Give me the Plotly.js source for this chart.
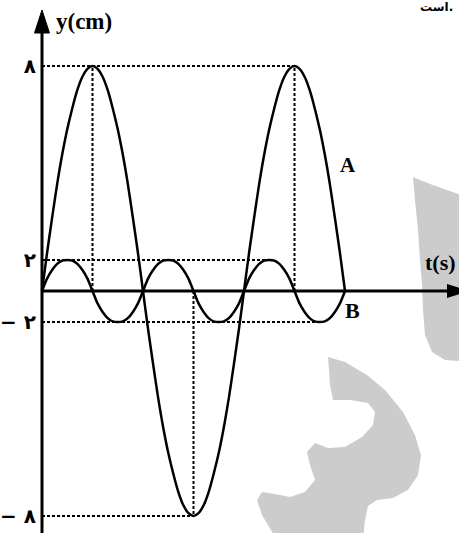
<!DOCTYPE html>
<html>
<head>
<meta charset="utf-8">
<script src="https://cdn.plot.ly/plotly-3.0.1.min.js"></script>
<style>html,body{margin:0;padding:0;background:#fff;}#chart{width:459px;height:533px;}</style>
</head>
<body>
<div id="chart"></div>
<script>
// time samples (s), shared by both waves
const t = [0,0.05,0.1,0.15,0.2,0.25,0.3,0.35,0.4,0.45,0.5,0.55,0.6,0.65,0.7,0.75,0.8,0.85,0.9,0.95,
  1,1.05,1.1,1.15,1.2,1.25,1.3,1.35,1.4,1.45,1.5,1.55,1.6,1.65,1.7,1.75,1.8,1.85,1.9,1.95,
  2,2.05,2.1,2.15,2.2,2.25,2.3,2.35,2.4,2.45,2.5,2.55,2.6,2.65,2.7,2.75,2.8,2.85,2.9,2.95,3];
// wave A, amplitude 8 cm
const waveA = [0,1.35,2.6,3.8,4.85,5.75,6.5,7.15,7.62,7.9,8,7.9,7.62,7.15,6.5,5.75,4.85,3.8,2.6,1.35,
  0,-1.35,-2.6,-3.8,-4.85,-5.75,-6.5,-7.15,-7.62,-7.9,-8,-7.9,-7.62,-7.15,-6.5,-5.75,-4.85,-3.8,-2.6,-1.35,
  0,1.35,2.6,3.8,4.85,5.75,6.5,7.15,7.62,7.9,8,7.9,7.62,7.15,6.5,5.75,4.85,3.8,2.6,1.35,0];
// wave B, amplitude 2 cm
const waveB = [0,0.8,1.35,1.75,1.96,2,1.96,1.75,1.35,0.8,0,-0.8,-1.35,-1.75,-1.96,-2,-1.96,-1.75,-1.35,-0.8,
  0,0.8,1.35,1.75,1.96,2,1.96,1.75,1.35,0.8,0,-0.8,-1.35,-1.75,-1.96,-2,-1.96,-1.75,-1.35,-0.8,
  0,0.8,1.35,1.75,1.96,2,1.96,1.75,1.35,0.8,0,-0.8,-1.35,-1.75,-1.96,-2,-1.96,-1.75,-1.35,-0.8,0];
// tick labels
const tickA = [8, -8];
const tickAText = ['۸', '− ۸'];
const tickB = [2, -2];
const tickBText = ['۲', '− ۲'];

const W = 459, H = 533, X0 = 42;
const pxPerT = 101;
const xRange = [-X0 / pxPerT, (W - X0) / pxPerT];
const xMax = xRange[1];
const yA = [-(H - 291) / 28.125, 291 / 28.125];
const yB = [-(H - 291) / 15.5, 291 / 15.5];

function idxOf(arr, v) { const r = []; arr.forEach((a, i) => { if (a === v) r.push(i); }); return r; }
const aMax = Math.max(...waveA), aMin = Math.min(...waveA);
const bMax = Math.max(...waveB), bMin = Math.min(...waveB);
const aPeaks = idxOf(waveA, aMax).map(i => t[i]);
const aTroughs = idxOf(waveA, aMin).map(i => t[i]);
const bPeaks = idxOf(waveB, bMax).map(i => t[i]);
const bTroughs = idxOf(waveB, bMin).map(i => t[i]);

const dotted = {color: '#000', width: 2, dash: '3px,2px'};
const shapes = [];
// horizontal guides
shapes.push({type: 'line', xref: 'x', yref: 'y', x0: 0, x1: aPeaks[aPeaks.length - 1], y0: aMax, y1: aMax, line: dotted});
shapes.push({type: 'line', xref: 'x', yref: 'y', x0: 0, x1: aTroughs[aTroughs.length - 1], y0: aMin, y1: aMin, line: dotted});
shapes.push({type: 'line', xref: 'x', yref: 'y2', x0: 0, x1: bPeaks[bPeaks.length - 1], y0: bMax, y1: bMax, line: dotted});
shapes.push({type: 'line', xref: 'x', yref: 'y2', x0: 0, x1: bTroughs[bTroughs.length - 1], y0: bMin, y1: bMin, line: dotted});
// vertical guides
aPeaks.forEach(p => shapes.push({type: 'line', xref: 'x', yref: 'y', x0: p, x1: p, y0: 0, y1: aMax, line: dotted}));
aTroughs.forEach(p => shapes.push({type: 'line', xref: 'x', yref: 'y', x0: p, x1: p, y0: 0, y1: aMin, line: dotted}));
// axes
shapes.push({type: 'line', xref: 'x', yref: 'y', x0: 0, x1: xMax, y0: 0, y1: 0, line: {color: '#000', width: 3}});
shapes.push({type: 'line', xref: 'x', yref: 'y', x0: 0, x1: 0, y0: yA[0], y1: 9.4, line: {color: '#000', width: 3}});
// arrowheads
shapes.push({type: 'path', xref: 'x', yref: 'y', xsizemode: 'pixel', ysizemode: 'pixel',
  xanchor: xMax + 10 / pxPerT, yanchor: 0, path: 'M0,0 L-22,-7 L-22,7 Z', fillcolor: '#000', line: {width: 0}});
shapes.push({type: 'path', xref: 'x', yref: 'y', xsizemode: 'pixel', ysizemode: 'pixel',
  xanchor: 0, yanchor: 9.99, path: 'M0,0 L-7.5,-23 L7.5,-23 Z', fillcolor: '#000', line: {color: '#000', width: 1}});

// watermark (decorative)
function P(pts) {
  return 'M' + pts.map(p => (p[0] / W).toFixed(4) + ',' + ((H - p[1]) / H).toFixed(4)).join(' L') + ' Z';
}
const wm1 = [[328,357],[345,362],[367,375],[385,390],[403,412],[415,435],[421,455],[418,475],[408,490],[393,498],[377,500],[368,506],[365,520],[363,540],[277,540],[262,515],[257,500],[262,492],[275,494],[290,497],[305,492],[315,480],[310,465],[307,452],[315,443],[328,448],[345,447],[362,437],[373,425],[375,412],[368,403],[350,400],[333,400],[330,385],[329,370]];
const wm2 = [[413,177],[430,184],[470,198],[470,362],[445,360],[432,352],[425,335],[423,310],[422,285],[420,260],[418,230],[415,200]];
shapes.unshift({type: 'path', xref: 'paper', yref: 'paper', layer: 'below', path: P(wm1), fillcolor: '#cccccc', line: {width: 0}});
shapes.unshift({type: 'path', xref: 'paper', yref: 'paper', layer: 'below', path: P(wm2), fillcolor: '#cccccc', line: {width: 0}});

const serif = '"Liberation Serif", "Times New Roman", "DejaVu Serif", serif';
const traces = [
  {x: t, y: waveA, type: 'scatter', mode: 'lines', yaxis: 'y', line: {color: '#000', width: 2.5, shape: 'spline', smoothing: 0.8}, hoverinfo: 'skip', name: 'A'},
  {x: t, y: waveB, type: 'scatter', mode: 'lines', yaxis: 'y2', line: {color: '#000', width: 2.5, shape: 'spline', smoothing: 0.8}, hoverinfo: 'skip', name: 'B'}
];

const tickFont = {family: '"DejaVu Sans", "Noto Sans", sans-serif', size: 20, color: '#000', weight: 'bold'};
const axPos = X0 / W;
const layout = {
  width: W, height: H,
  margin: {l: 0, r: 0, t: 0, b: 0},
  paper_bgcolor: '#fff', plot_bgcolor: 'rgba(0,0,0,0)',
  showlegend: false,
  xaxis: {range: xRange, visible: false, fixedrange: true},
  yaxis: {range: yA, anchor: 'free', position: axPos, showgrid: false, zeroline: false, showline: false, ticks: '',
    tickvals: tickA, ticktext: tickAText, ticklabelstandoff: 6, tickfont: tickFont},
  yaxis2: {range: yB, overlaying: 'y', side: 'left', anchor: 'free', position: axPos, showgrid: false, zeroline: false, showline: false, ticks: '',
    tickvals: tickB, ticktext: tickBText, ticklabelstandoff: 6, tickfont: tickFont},
  shapes: shapes,
  annotations: [
    {text: 'y(cm)', xref: 'x', yref: 'y', x: 0.42, y: 9.6, showarrow: false, xanchor: 'center', yanchor: 'middle',
      font: {family: serif, size: 23, color: '#000', weight: 'bold'}},
    {text: 't(s)', xref: 'x', yref: 'y', x: 3.95, y: 1.0, showarrow: false, xanchor: 'center', yanchor: 'middle',
      font: {family: serif, size: 22, color: '#000', weight: 'bold'}},
    {text: 'A', xref: 'x', yref: 'y', x: 3.03, y: 4.48, showarrow: false, xanchor: 'center', yanchor: 'middle',
      font: {family: serif, size: 21, color: '#000', weight: 'bold'}},
    {text: 'B', xref: 'x', yref: 'y', x: 3.07, y: -0.68, showarrow: false, xanchor: 'center', yanchor: 'middle',
      font: {family: serif, size: 22, color: '#000', weight: 'bold'}},
    {text: 'است.', xref: 'x', yref: 'paper', x: (455 - X0) / pxPerT, y: 1, showarrow: false, xanchor: 'right', yanchor: 'top', yshift: 2,
      font: {family: '"DejaVu Sans", "Noto Sans", sans-serif', size: 12, color: '#000', weight: 'bold'}}
  ]
};

Plotly.newPlot('chart', traces, layout, {displayModeBar: false, staticPlot: true});
</script>
</body>
</html>
